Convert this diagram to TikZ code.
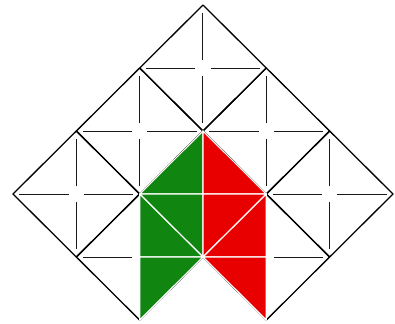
\documentclass[tikz,border=0pt]{standalone}
\definecolor{leafgreen}{RGB}{16,134,16}
\definecolor{leafred}{RGB}{232,0,0}
\tikzset{
  edge/.style={black,line width=1.3pt,line join=round},
  crossline/.style={black!90,line width=1.0pt},
  greenpiece/.style={fill=leafgreen,draw=white,line width=1.2pt,line join=round},
  redpiece/.style={fill=leafred,draw=white,line width=1.2pt,line join=round}
}
\begin{document}
\begin{tikzpicture}[x={(63.33pt,0pt)},y={(0pt,-63pt)}]
\useasboundingbox (-0.2053,-0.0794) rectangle (6.0319,5.0476);
% diamonds with crosses
\foreach \c/\r in {3/1,2/2,4/2,1/3,3/3,5/3,2/4,4/4}{
  \draw[edge] (\c-1,\r) -- (\c,\r-1) -- (\c+1,\r) -- (\c,\r+1) -- cycle;
  \draw[crossline] (\c+0.12,\r) -- (\c+0.9,\r);
  \draw[crossline] (\c-0.12,\r) -- (\c-0.9,\r);
  \draw[crossline] (\c,\r+0.12) -- (\c,\r+0.87);
  \draw[crossline] (\c,\r-0.12) -- (\c,\r-0.87);
}
% green pieces
\filldraw[greenpiece] (3,2) -- (2,3) -- (3,3) -- cycle;
\filldraw[greenpiece] (2,3) -- (3,3) -- (3,4) -- cycle;
\filldraw[greenpiece] (2,3) -- (2,4) -- (3,4) -- cycle;
\filldraw[greenpiece] (2,4) -- (3,4) -- (2,5) -- cycle;
% red pieces
\filldraw[redpiece] (3,2) -- (4,3) -- (3,3) -- cycle;
\filldraw[redpiece] (3,3) -- (4,3) -- (3,4) -- cycle;
\filldraw[redpiece] (4,3) -- (4,4) -- (3,4) -- cycle;
\filldraw[redpiece] (3,4) -- (4,4) -- (4,5) -- cycle;
\end{tikzpicture}
\end{document}
